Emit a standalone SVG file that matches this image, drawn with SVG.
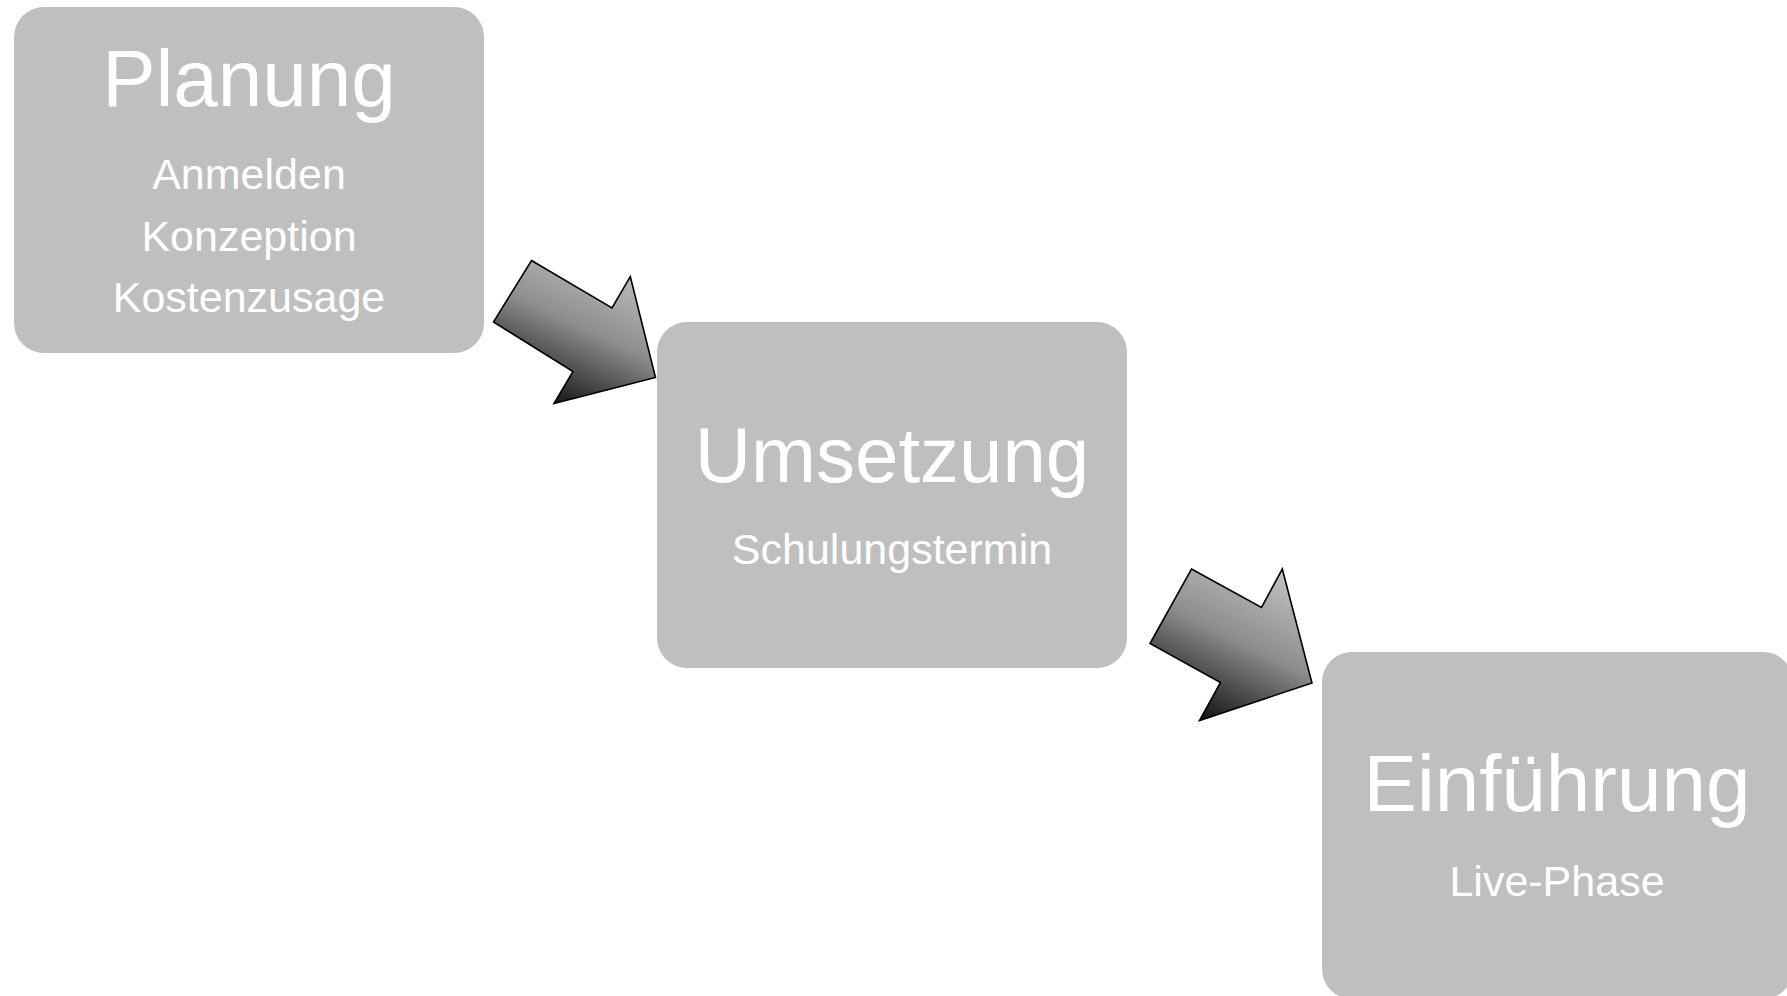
<svg xmlns="http://www.w3.org/2000/svg" width="1787" height="996" viewBox="0 0 1787 996">
<defs>
<linearGradient id="ag" x1="0.8" y1="0.05" x2="0.3" y2="1">
<stop offset="0" stop-color="#bdbdbd"/>
<stop offset="0.45" stop-color="#8e8e8e"/>
<stop offset="1" stop-color="#101010"/>
</linearGradient>
</defs>
<style>
.box{fill:#bfbfbf;}
.t{font-family:"Liberation Sans",Arial,sans-serif;fill:#ffffff;text-anchor:middle;}
.h{font-size:80px;}
.s{font-size:43px;}
.arr{fill:url(#ag);stroke:#000;stroke-width:1.6;stroke-linejoin:miter;}
</style>
<rect width="1787" height="996" fill="#ffffff"/>
<g id="connectors">
<polygon class="arr" points="531.5,260.5 612,308 630.3,276.5 655.5,377.5 554,403.5 573,371.5 493.5,322"/>
<polygon class="arr" points="1191.5,569 1261.5,607.5 1282.3,569 1312,683 1199.5,720.5 1220.5,682.5 1150,643.5"/>
</g>
<g id="planung">
<rect class="box" x="14" y="7" width="470" height="346" rx="30" ry="30"/>
<text class="t h" x="249" y="106">Planung</text>
<text class="t s" x="249" y="189">Anmelden</text>
<text class="t s" x="249" y="251">Konzeption</text>
<text class="t s" x="249" y="312">Kostenzusage</text>
</g>
<g id="umsetzung">
<rect class="box" x="657" y="322" width="470" height="346" rx="30" ry="30"/>
<text class="t h" x="892" y="482" style="font-size:78px">Umsetzung</text>
<text class="t s" x="892" y="564">Schulungstermin</text>
</g>
<g id="einfuehrung">
<rect class="box" x="1322" y="652" width="471" height="347" rx="30" ry="30"/>
<text class="t h" x="1557" y="811">Einführung</text>
<text class="t s" x="1557" y="896">Live-Phase</text>
</g>
</svg>
